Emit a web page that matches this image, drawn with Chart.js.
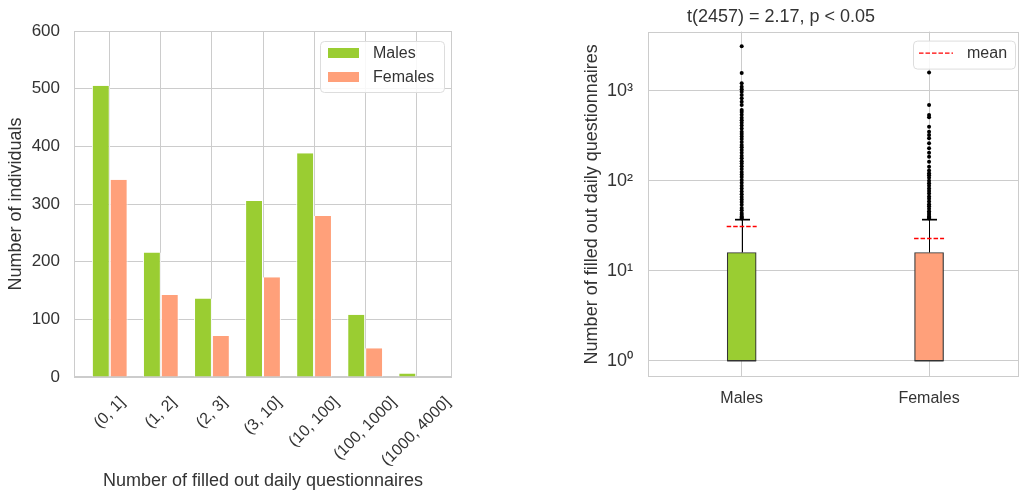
<!DOCTYPE html>
<html>
<head>
<meta charset="utf-8">
<script src="https://cdn.jsdelivr.net/npm/chart.js@4/dist/chart.umd.min.js"></script>
<style>
html,body{margin:0;padding:0;background:#fff;width:1023px;height:493px;overflow:hidden}
#left{position:absolute;left:0;top:0;width:480px;height:493px}
#right{position:absolute;left:540px;top:0;width:483px;height:493px}
</style>
</head>
<body>
<div id="left"><canvas id="c1"></canvas></div>
<div id="right"><canvas id="c2"></canvas></div>
<script>
// ---------- data: left histogram ----------
const categories = ['(0, 1]', '(1, 2]', '(2, 3]', '(3, 10]', '(10, 100]', '(100, 1000]', '(1000, 4000]'];
const malesCounts = [505, 216, 136, 305, 388, 108, 6];
const femalesCounts = [342, 142, 71, 173, 279, 50, 0];
const seriesNames = ['Males', 'Females'];
const seriesColors = ['#9acd32', '#ffa07a'];
const leftXTitle = 'Number of filled out daily questionnaires';
const leftYTitle = 'Number of individuals';

// ---------- data: right box plot ----------
const groups = ['Males', 'Females'];
const boxQ1 = [1, 1];
const boxMedian = [1, 1];
const boxQ3 = [16, 16];
const whiskerLow = [1, 1];
const whiskerHigh = [37, 37];
const groupMeans = [31.4, 23.1];
const maleOutliers = [3100, 1570, 1208, 1107, 1037, 975, 896, 824, 755, 693, 610, 580, 540, 500, 470, 440,
  410, 380, 350, 330, 310, 290, 270, 250, 235, 220, 205, 190, 178, 165, 155, 145, 135, 125, 117, 110,
  102, 95, 88, 82, 76, 71, 66, 62, 58, 54, 50, 47, 44, 42, 40, 39, 38];
const femaleOutliers = [1585, 693, 537, 506, 398, 350, 322, 296, 260, 229, 205, 185, 163, 143, 130,
  121, 115, 108, 100, 94, 88, 82, 77, 72, 67, 63, 59, 55, 52, 49, 46, 44, 42, 40, 39, 38];
const logTickValues = [1, 10, 100, 1000];
const logTickLabels = ['10\u2070', '10\u00b9', '10\u00b2', '10\u00b3'];
const rightTitle = 't(2457) = 2.17, p < 0.05';
const rightYTitle = 'Number of filled out daily questionnaires';
const meanLabel = 'mean';

// ---------- common ----------
const FONT = "'Liberation Sans', Arial, sans-serif";
const TEXT = '#333333';
const GRID = '#cccccc';
Chart.defaults.font.family = FONT;
Chart.defaults.color = TEXT;
Chart.defaults.animation = false;

function roundRect(ctx, x, y, w, h, r) {
  ctx.beginPath();
  ctx.moveTo(x + r, y);
  ctx.lineTo(x + w - r, y);
  ctx.arcTo(x + w, y, x + w, y + r, r);
  ctx.lineTo(x + w, y + h - r);
  ctx.arcTo(x + w, y + h, x + w - r, y + h, r);
  ctx.lineTo(x + r, y + h);
  ctx.arcTo(x, y + h, x, y + h - r, r);
  ctx.lineTo(x, y + r);
  ctx.arcTo(x, y, x + r, y, r);
  ctx.closePath();
}

const framePlugin = {
  id: 'frame',
  beforeDatasetsDraw(chart) {
    const {ctx, chartArea: a} = chart;
    ctx.save();
    ctx.strokeStyle = GRID;
    ctx.lineWidth = 1;
    const l = Math.round(a.left) + 0.5, t = Math.round(a.top) + 0.5;
    const r = Math.round(a.right) - 0.5, b = Math.round(a.bottom) - 0.5;
    ctx.strokeRect(l, t, r - l, b - t);
    ctx.restore();
  }
};

// rotated, centred category labels for the histogram
const rotatedLabels = {
  id: 'rotatedLabels',
  afterDraw(chart) {
    const {ctx, chartArea: a} = chart;
    const xs = chart.scales.x;
    ctx.save();
    ctx.font = '16px ' + FONT;
    ctx.fillStyle = TEXT;
    ctx.textAlign = 'center';
    ctx.textBaseline = 'middle';
    categories.forEach((c, i) => {
      const w = ctx.measureText(c).width;
      const x = xs.getPixelForValue(i);
      const y = a.bottom + 20 + (w + 8) * 0.3536;
      ctx.save();
      ctx.translate(x, y);
      ctx.rotate(-Math.PI / 4);
      ctx.fillText(c, 0, 0);
      ctx.restore();
    });
    ctx.restore();
  }
};

const barLegend = {
  id: 'barLegend',
  afterDraw(chart) {
    const {ctx, chartArea: a} = chart;
    const w = 124, h = 51;
    const x0 = a.right - 8 - w, y0 = a.top + 10;
    ctx.save();
    roundRect(ctx, x0 + 0.5, y0 + 0.5, w, h, 4);
    ctx.fillStyle = 'rgba(255,255,255,0.85)';
    ctx.fill();
    ctx.strokeStyle = '#dddddd';
    ctx.lineWidth = 1;
    ctx.stroke();
    ctx.font = '16px ' + FONT;
    ctx.textBaseline = 'middle';
    chart.data.datasets.forEach((d, i) => {
      const cy = y0 + 12 + i * 24;
      ctx.fillStyle = d.backgroundColor;
      ctx.fillRect(x0 + 8, cy - 5, 31, 10);
      ctx.fillStyle = TEXT;
      ctx.fillText(d.label, x0 + 53, cy + 1);
    });
    ctx.restore();
  }
};

// ---------- left chart ----------
new Chart(document.getElementById('c1'), {
  type: 'bar',
  data: {
    datasets: [
      {
        label: seriesNames[0],
        data: malesCounts.map((v, i) => ({x: i, y: v})),
        backgroundColor: seriesColors[0],
        borderColor: '#ffffff',
        borderWidth: {left: 1, right: 1, top: 0, bottom: 0}
      },
      {
        label: seriesNames[1],
        data: femalesCounts.map((v, i) => ({x: i, y: v})),
        backgroundColor: seriesColors[1],
        borderColor: '#ffffff',
        borderWidth: {left: 1, right: 1, top: 0, bottom: 0}
      }
    ]
  },
  options: {
    responsive: true,
    maintainAspectRatio: false,
    categoryPercentage: 0.7,
    barPercentage: 1.0,
    layout: {padding: {top: 31, right: 28, left: 0, bottom: 0}},
    plugins: {legend: {display: false}, tooltip: {enabled: false}},
    scales: {
      x: {
        type: 'linear',
        bounds: 'data',
        offset: false,
        min: -0.7,
        max: 6.7,
        afterBuildTicks: (s) => { s.ticks = categories.map((c, i) => ({value: i})); },
        ticks: {display: false},
        grid: {color: GRID, drawTicks: false, offset: false},
        border: {display: false},
        title: {display: true, text: leftXTitle, font: {size: 18}, color: TEXT, padding: {top: 0, bottom: 1}},
        afterFit: (s) => { s.height = 116; }
      },
      y: {
        min: 0,
        max: 600,
        ticks: {stepSize: 100, font: {size: 17}, padding: 14, color: TEXT},
        grid: {color: GRID, drawTicks: false},
        border: {display: false},
        title: {display: true, text: leftYTitle, font: {size: 18}, color: TEXT, padding: {top: 5, bottom: 0}},
        afterFit: (s) => { s.width = 74; }
      }
    }
  },
  plugins: [framePlugin, rotatedLabels, barLegend]
});

// ---------- right chart ----------
const boxExtras = {
  id: 'boxExtras',
  beforeDatasetsDraw(chart) {
    const {ctx} = chart;
    const xs = chart.scales.x, ys = chart.scales.y;
    ctx.save();
    ctx.strokeStyle = '#000000';
    groups.forEach((g, i) => {
      const x = Math.round(xs.getPixelForValue(i)) + 0.5;
      ctx.lineWidth = 1;
      ctx.beginPath();
      ctx.moveTo(x, ys.getPixelForValue(boxQ3[i]));
      ctx.lineTo(x, ys.getPixelForValue(whiskerHigh[i]));
      ctx.moveTo(x, ys.getPixelForValue(boxQ1[i]));
      ctx.lineTo(x, ys.getPixelForValue(whiskerLow[i]));
      ctx.stroke();
      ctx.lineWidth = 1.7;
      ctx.beginPath();
      const yh = ys.getPixelForValue(whiskerHigh[i]);
      ctx.moveTo(x - 7.5, yh); ctx.lineTo(x + 7.5, yh);
      ctx.stroke();
    });
    ctx.restore();
  },
  afterDatasetsDraw(chart) {
    const {ctx} = chart;
    const xs = chart.scales.x, ys = chart.scales.y;
    ctx.save();
    groups.forEach((g, i) => {
      const x = xs.getPixelForValue(i);
      ctx.strokeStyle = '#333333';
      ctx.lineWidth = 1;
      ctx.setLineDash([]);
      ctx.beginPath();
      const ym = ys.getPixelForValue(boxMedian[i]);
      ctx.moveTo(x - 14.5, ym); ctx.lineTo(x + 14.5, ym);
      ctx.stroke();
      ctx.strokeStyle = '#ff0000';
      ctx.lineWidth = 1.3;
      ctx.setLineDash([4.5, 2]);
      ctx.beginPath();
      const yMean = Math.round(ys.getPixelForValue(groupMeans[i])) + 0.5;
      ctx.moveTo(x - 15, yMean); ctx.lineTo(x + 15, yMean);
      ctx.stroke();
    });
    ctx.restore();
  },
  afterDraw(chart) {
    const {ctx, chartArea: a} = chart;
    const w = 102, h = 28;
    const x0 = a.right - 4 - w, y0 = a.top + 9;
    ctx.save();
    roundRect(ctx, x0 + 0.5, y0 + 0.5, w, h, 4);
    ctx.fillStyle = 'rgba(255,255,255,0.85)';
    ctx.fill();
    ctx.strokeStyle = '#dddddd';
    ctx.lineWidth = 1;
    ctx.stroke();
    ctx.strokeStyle = '#ff0000';
    ctx.lineWidth = 1.3;
    ctx.setLineDash([4.5, 2]);
    ctx.beginPath();
    ctx.moveTo(x0 + 6, y0 + 12.5); ctx.lineTo(x0 + 40, y0 + 12.5);
    ctx.stroke();
    ctx.setLineDash([]);
    ctx.font = '16px ' + FONT;
    ctx.fillStyle = TEXT;
    ctx.textBaseline = 'middle';
    ctx.fillText(meanLabel, x0 + 54, y0 + 13);
    ctx.restore();
  }
};

new Chart(document.getElementById('c2'), {
  type: 'bar',
  data: {
    datasets: [
      {
        type: 'scatter',
        label: groups[0] + ' outliers',
        data: maleOutliers.map(v => ({x: 0, y: v})),
        pointRadius: 2,
        pointBackgroundColor: '#000000',
        pointBorderWidth: 0
      },
      {
        type: 'scatter',
        label: groups[1] + ' outliers',
        data: femaleOutliers.map(v => ({x: 1, y: v})),
        pointRadius: 2,
        pointBackgroundColor: '#000000',
        pointBorderWidth: 0
      },
      {
        type: 'bar',
        label: 'Q1\u2013Q3',
        data: groups.map((g, i) => ({x: i, y: [boxQ1[i], boxQ3[i]]})),
        backgroundColor: seriesColors,
        borderColor: '#333333',
        borderWidth: 1.2,
        borderSkipped: false,
        barThickness: 29
      }
    ]
  },
  options: {
    responsive: true,
    maintainAspectRatio: false,
    layout: {padding: {top: 0, right: 1, left: 0, bottom: 0}},
    plugins: {
      legend: {display: false},
      tooltip: {enabled: false},
      title: {display: true, text: rightTitle, font: {size: 18, weight: 'normal'}, color: TEXT, padding: {top: 6, bottom: 4}}
    },
    scales: {
      x: {
        type: 'linear',
        bounds: 'data',
        offset: false,
        min: -0.5,
        max: 1.48,
        afterBuildTicks: (s) => { s.ticks = groups.map((g, i) => ({value: i})); },
        ticks: {font: {size: 16}, padding: 12, color: TEXT, callback: (v) => groups[Math.round(v)]},
        grid: {color: GRID, drawTicks: false, offset: false},
        border: {display: false},
        afterFit: (s) => { s.height = 116; }
      },
      y: {
        type: 'logarithmic',
        bounds: 'data',
        min: 0.664,
        max: 4520,
        afterBuildTicks: (s) => { s.ticks = logTickValues.map(v => ({value: v})); },
        ticks: {
          font: {size: 18}, padding: 15, color: TEXT,
          callback: (v) => {
            const k = logTickValues.findIndex(t => Math.abs(t - v) < 1e-6 * t);
            return k >= 0 ? logTickLabels[k] : '';
          }
        },
        grid: {color: GRID, drawTicks: false},
        border: {display: false},
        title: {display: true, text: rightYTitle, font: {size: 18}, color: TEXT, padding: {top: 41, bottom: 0}},
        afterFit: (s) => { s.width = 108; }
      }
    }
  },
  plugins: [framePlugin, boxExtras]
});
</script>
</body>
</html>
